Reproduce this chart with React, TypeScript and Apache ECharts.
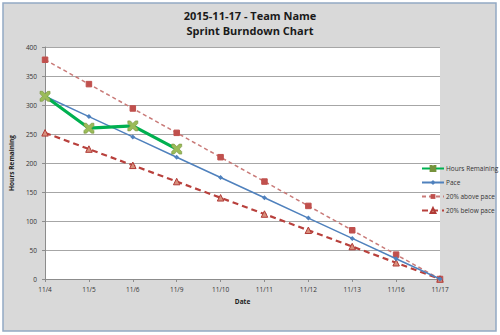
import React, { useEffect, useRef } from "react";
import * as echarts from "echarts";

const categories = ["11/4", "11/5", "11/6", "11/9", "11/10", "11/11", "11/12", "11/13", "11/16", "11/17"];
const hoursRemaining = [315, 260, 264, 224];
const pace = [315, 280, 245, 210, 175, 140, 105, 70, 35, 0];
const above = [378, 336, 294, 252, 210, 168, 126, 84, 42, 0];
const below = [252, 224, 196, 168, 140, 112, 84, 56, 28, 0];
const titleLines = ["2015-11-17 - Team Name", "Sprint Burndown Chart"];

const xMark = "path://M0,0 L2.5,0 L5,2.5 L7.5,0 L10,0 L10,2.5 L7.5,5 L10,7.5 L10,10 L7.5,10 L5,7.5 L2.5,10 L0,10 L0,7.5 L2.5,5 L0,2.5 Z";

export default function App() {
  const ref = useRef<HTMLDivElement>(null);
  useEffect(() => {
    const chart = echarts.init(ref.current!, null, { renderer: "svg" });
    const font = "'Open Sans', 'Liberation Sans', sans-serif";
    const titleStyle = { fontSize: 11, lineHeight: 11, fontWeight: "bold", color: "#1a1a1a", fontFamily: font };
    chart.setOption({
      animation: false,
      backgroundColor: "#ffffff",
      textStyle: { fontFamily: font },
      graphic: [
        {
          type: "rect",
          z: -10,
          shape: { x: 3, y: 3, width: 493, height: 328 },
          style: { fill: "#d9d9d9", stroke: "#93a9c4", lineWidth: 1.5 },
        },
      ],
      title: {
        text: titleLines[0],
        subtext: titleLines[1],
        left: "center",
        top: 10,
        padding: 0,
        itemGap: 4,
        textStyle: titleStyle,
        subtextStyle: titleStyle,
      },
      grid: { left: 28, right: 60, top: 47, bottom: 56, show: true, backgroundColor: "#ffffff", borderWidth: 0 },
      legend: {
        orient: "vertical",
        left: 416,
        top: 160,
        itemWidth: 22,
        itemHeight: 6,
        itemGap: 7,
        textStyle: { fontSize: 6.5, color: "#333", fontFamily: font, padding: [0, 0, 0, -3] },
        data: ["Hours Remaining", "Pace", "20% above pace", "20% below pace"],
      },
      xAxis: {
        type: "category",
        data: categories,
        boundaryGap: false,
        name: "Date",
        nameLocation: "middle",
        nameGap: 18,
        nameTextStyle: { fontSize: 6.5, fontWeight: "bold", color: "#222", fontFamily: font },
        axisLine: { lineStyle: { color: "#8c8c8c" } },
        axisTick: { show: true, alignWithLabel: true, length: 3, lineStyle: { color: "#8c8c8c" } },
        axisLabel: { fontSize: 6.5, color: "#333", margin: 7, fontFamily: font },
      },
      yAxis: {
        type: "value",
        min: 0,
        max: 400,
        interval: 50,
        name: "Hours Remaining",
        nameLocation: "middle",
        nameGap: 16,
        nameTextStyle: { fontSize: 6.5, fontWeight: "bold", color: "#222", fontFamily: font },
        axisLine: { show: true, lineStyle: { color: "#8c8c8c" } },
        axisTick: { show: true, length: 3, lineStyle: { color: "#8c8c8c" } },
        axisLabel: { fontSize: 6.5, color: "#333", margin: 8, fontFamily: font },
        splitLine: { lineStyle: { color: "#a6a6a6", width: 1 } },
      },
      series: [
        {
          name: "20% above pace",
          type: "line",
          data: above,
          symbol: "rect",
          symbolSize: 5.5,
          z: 2,
          itemStyle: { color: "#c0504d", borderColor: "#c0504d" },
          lineStyle: { color: "#c97a78", width: 1.5, type: [4, 3] },
        },
        {
          name: "20% below pace",
          type: "line",
          data: below,
          symbol: "triangle",
          symbolSize: 6.5,
          z: 2,
          itemStyle: { color: "#d88f7c", borderColor: "#b03a36", borderWidth: 1 },
          lineStyle: { color: "#b8403c", width: 2.2, type: [6, 4] },
        },
        {
          name: "Pace",
          type: "line",
          data: pace,
          symbol: "diamond",
          symbolSize: 5,
          z: 3,
          itemStyle: { color: "#4f81bd" },
          lineStyle: { color: "#4f81bd", width: 1.5 },
        },
        {
          name: "Hours Remaining",
          type: "line",
          data: hoursRemaining,
          symbol: xMark,
          symbolSize: 10,
          z: 4,
          itemStyle: { color: "#9bbb59", borderColor: "#76923c", borderWidth: 0.6 },
          lineStyle: { color: "#00b050", width: 3.2 },
        },
      ],
    });
    return () => chart.dispose();
  }, []);
  return (
    <div style={{ position: "fixed", left: 0, top: 0, width: 500, height: 335 }}>
      <div ref={ref} style={{ width: 500, height: 335 }} />
    </div>
  );
}
